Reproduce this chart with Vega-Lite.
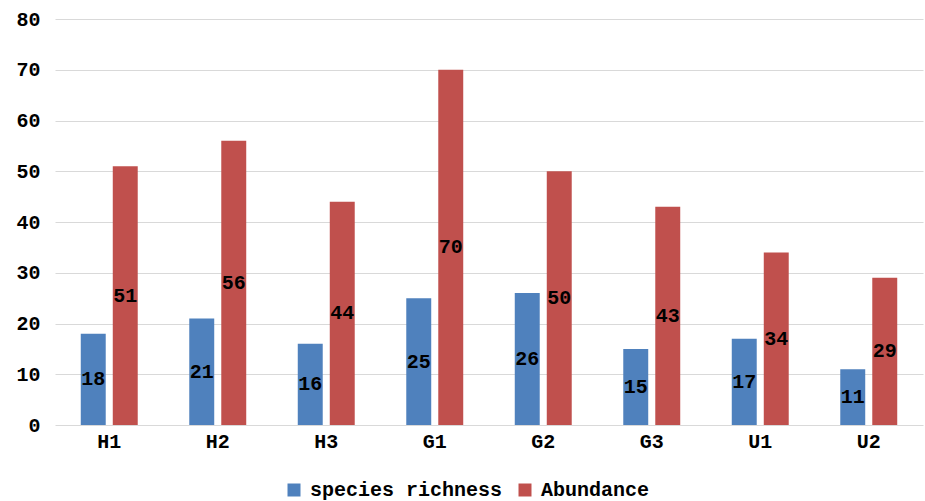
{
  "$schema": "https://vega.github.io/schema/vega-lite/v6.json",
  "width": 868,
  "height": 406,
  "autosize": "none",
  "padding": {"left": 55, "top": 19, "right": 2, "bottom": 76},
  "config": {
    "font": "Liberation Mono",
    "view": {"stroke": null},
    "axis": {
      "labelFont": "Liberation Mono",
      "labelFontWeight": "bold",
      "labelFontSize": 20,
      "labelColor": "#000000",
      "title": null,
      "ticks": false,
      "domain": false,
      "gridColor": "#d9d9d9",
      "gridWidth": 1
    }
  },
  "data": {
    "values": [
      {"site": "H1", "measure": "species richness", "value": 18},
      {"site": "H1", "measure": "Abundance", "value": 51},
      {"site": "H2", "measure": "species richness", "value": 21},
      {"site": "H2", "measure": "Abundance", "value": 56},
      {"site": "H3", "measure": "species richness", "value": 16},
      {"site": "H3", "measure": "Abundance", "value": 44},
      {"site": "G1", "measure": "species richness", "value": 25},
      {"site": "G1", "measure": "Abundance", "value": 70},
      {"site": "G2", "measure": "species richness", "value": 26},
      {"site": "G2", "measure": "Abundance", "value": 50},
      {"site": "G3", "measure": "species richness", "value": 15},
      {"site": "G3", "measure": "Abundance", "value": 43},
      {"site": "U1", "measure": "species richness", "value": 17},
      {"site": "U1", "measure": "Abundance", "value": 34},
      {"site": "U2", "measure": "species richness", "value": 11},
      {"site": "U2", "measure": "Abundance", "value": 29}
    ]
  },
  "encoding": {
    "x": {
      "field": "site",
      "type": "nominal",
      "sort": ["H1", "H2", "H3", "G1", "G2", "G3", "U1", "U2"],
      "scale": {"paddingInner": 0.475, "paddingOuter": 0.2375},
      "axis": {"labelAngle": 0, "labelPadding": 6, "grid": false}
    },
    "xOffset": {
      "field": "measure",
      "type": "nominal",
      "sort": ["species richness", "Abundance"],
      "scale": {"paddingInner": 0.22, "paddingOuter": 0}
    }
  },
  "layer": [
    {
      "mark": {"type": "bar"},
      "encoding": {
        "y": {
          "field": "value",
          "type": "quantitative",
          "scale": {"domain": [0, 80], "nice": false},
          "axis": {"values": [0, 10, 20, 30, 40, 50, 60, 70, 80], "labelPadding": 15, "grid": true}
        },
        "color": {
          "field": "measure",
          "type": "nominal",
          "sort": ["species richness", "Abundance"],
          "scale": {"domain": ["species richness", "Abundance"], "range": ["#4f81bd", "#c0504d"]},
          "legend": {
            "title": null,
            "orient": "none",
            "direction": "horizontal",
            "legendX": 229,
            "legendY": 461,
            "symbolType": "square",
            "symbolSize": 169,
            "symbolStrokeWidth": 0,
            "labelFont": "Liberation Mono",
            "labelFontWeight": "bold",
            "labelFontSize": 20,
            "labelColor": "#000000",
            "labelLimit": 0,
            "columnPadding": 12,
            "labelOffset": 6
          }
        }
      }
    },
    {
      "mark": {"type": "text", "fontWeight": "bold", "fontSize": 20, "baseline": "middle", "align": "center", "color": "#000000"},
      "encoding": {
        "y": {
          "field": "value",
          "type": "quantitative",
          "scale": {"domain": [0, 160], "nice": false},
          "axis": null
        },
        "text": {"field": "value", "type": "quantitative"}
      }
    }
  ],
  "resolve": {"scale": {"y": "independent"}}
}
